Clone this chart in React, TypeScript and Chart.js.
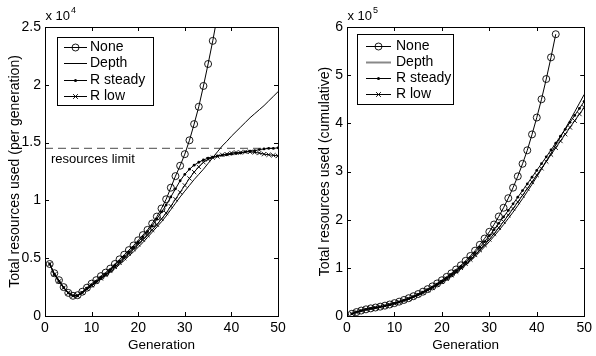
import React, { useEffect, useRef } from "react";
import { Chart, registerables } from "chart.js";

Chart.register(...registerables);

const FONT = "'Liberation Sans', Arial, Helvetica, sans-serif";

// ---------- data ----------
const generations = [
  1, 2, 3, 4, 5, 6, 7, 8, 9, 10, 11, 12, 13, 14, 15, 16, 17, 18, 19, 20, 21, 22, 23, 24, 25,
  26, 27, 28, 29, 30, 31, 32, 33, 34, 35, 36, 37, 38, 39, 40, 41, 42, 43, 44, 45, 46, 47, 48, 49, 50,
];
const seriesNames = ["None", "Depth", "R steady", "R low"];
const resourcesLimit = 14500;
const resourcesLimitLabel = "resources limit";

// per generation (left panel)
const perGenNone = [
  4500, 3700, 3100, 2500, 2000, 1750, 1800, 2100, 2450, 2800, 3100, 3450, 3750, 4100, 4500, 4900,
  5300, 5700, 6100, 6550, 7000, 7450, 8000, 8600, 9300, 10100, 11100, 12100, 13000, 14000, 15200,
  16600, 18100, 19900, 21800, 23800, 26000,
];
const perGenDepth = [
  4500, 3600, 3000, 2450, 2000, 1750, 1750, 2000, 2300, 2600, 2900, 3200, 3500, 3800, 4100, 4450,
  4800, 5200, 5550, 5950, 6350, 6800, 7250, 7700, 8150, 8650, 9200, 9750, 10300, 10800, 11300,
  11800, 12250, 12700, 13200, 13700, 14200, 14700, 15100, 15550, 15950, 16350, 16750, 17150, 17500,
  17850, 18200, 18600, 19000, 19400,
];
const perGenRSteady = [
  4500, 3600, 3000, 2450, 2000, 1750, 1750, 2050, 2400, 2700, 3000, 3350, 3650, 4000, 4400, 4750,
  5150, 5550, 5950, 6400, 6850, 7300, 7800, 8400, 9000, 9600, 10300, 11000, 11700, 12250, 12700,
  13050, 13300, 13500, 13650, 13750, 13850, 13900, 13950, 14000, 14050, 14100, 14200, 14250, 14300,
  14400, 14450, 14500, 14500, 14550,
];
const perGenRLow = [
  4500, 3600, 3000, 2450, 2000, 1750, 1750, 2000, 2350, 2650, 2950, 3250, 3550, 3900, 4250, 4600,
  5000, 5400, 5800, 6200, 6600, 7000, 7450, 7900, 8400, 8900, 9500, 10100, 10700, 11300, 11900,
  12450, 12900, 13300, 13550, 13700, 13800, 13950, 14000, 14100, 14150, 14150, 14200, 14200, 14150,
  14100, 14000, 13950, 13900, 13850,
];

// cumulative (right panel)
const cumNone = [
  4500, 8200, 11300, 13800, 15800, 17600, 19400, 21500, 23900, 26700, 29800, 33300, 37000, 41100,
  45600, 50500, 55800, 61500, 67600, 74200, 81200, 88600, 96600, 105200, 114500, 124600, 135700,
  147800, 160800, 174800, 190000, 206600, 224700, 244600, 266400, 290000, 316000, 344000, 377000,
  412000, 450000, 492000, 537000, 585000,
];
const cumDepth = [
  4500, 8100, 11100, 13600, 15600, 17300, 19100, 21100, 23400, 26000, 28900, 32100, 35600, 39400,
  43500, 47900, 52700, 57900, 63500, 69400, 75800, 82600, 89800, 97500, 105700, 114300, 123500,
  133300, 143600, 154400, 165700, 177500, 189700, 202400, 215600, 229300, 243500, 258200, 273300,
  288900, 304800, 321200, 337900, 355000, 372000, 389000, 406000, 424000, 442000, 460000,
];
const cumRSteady = [
  4500, 8100, 11100, 13600, 15600, 17300, 19100, 21100, 23500, 26200, 29200, 32600, 36200, 40200,
  44600, 49400, 54500, 60100, 66000, 72400, 79300, 86600, 94400, 102800, 111800, 121400, 131700,
  142700, 154400, 166600, 179300, 192400, 205700, 219200, 232800, 246600, 260400, 274300, 288300,
  302300, 316300, 330400, 344600, 358900, 373200, 387600, 402000, 416500, 431000, 445600,
];
const cumRLow = [
  4500, 8100, 11100, 13600, 15600, 17300, 19100, 21100, 23400, 26100, 29000, 32300, 35800, 39700,
  44000, 48600, 53600, 59000, 64800, 71000, 77600, 84600, 92000, 99900, 108300, 117200, 126700,
  136800, 147500, 158800, 170700, 183200, 196100, 209400, 222900, 236600, 250400, 264400, 278400,
  292500, 306600, 320800, 335000, 349200, 363300, 377400, 391400, 405400, 419300, 433100,
];

// axis settings
const xMin = 0;
const xMax = 50;
const xStep = 10;
const leftYMax = 25000;
const leftYStep = 5000;
const leftYScaleExp = 4;
const rightYMax = 600000;
const rightYStep = 100000;
const rightYScaleExp = 5;

// ---------- helpers ----------
type Kind = "circle" | "line" | "dot" | "cross";
const kinds: Kind[] = ["circle", "line", "dot", "cross"];

function pts(values: number[]) {
  return values.map((v, i) => ({ x: generations[i], y: v }));
}

function lineDs(label: string, values: number[], kind: Kind) {
  const base: any = {
    label,
    data: pts(values),
    borderColor: "#000",
    borderWidth: 1,
    pointBorderColor: "#000",
    tension: 0,
    fill: false,
  };
  if (kind === "circle")
    return { ...base, pointStyle: "circle", pointRadius: 3.5, pointBackgroundColor: "rgba(0,0,0,0)", pointBorderWidth: 0.9 };
  if (kind === "dot")
    return { ...base, pointStyle: "circle", pointRadius: 1.4, pointBackgroundColor: "#000", pointBorderWidth: 0 };
  if (kind === "cross")
    return { ...base, pointStyle: "crossRot", pointRadius: 3, pointBorderWidth: 0.9, pointBackgroundColor: "#000" };
  return { ...base, pointRadius: 0 };
}

function drawMarker(ctx: CanvasRenderingContext2D, kind: Kind, x: number, y: number) {
  ctx.beginPath();
  if (kind === "circle") {
    ctx.lineWidth = 0.9;
    ctx.arc(x, y, 3.5, 0, Math.PI * 2);
    ctx.stroke();
  } else if (kind === "dot") {
    ctx.arc(x, y, 1.5, 0, Math.PI * 2);
    ctx.fill();
  } else if (kind === "cross") {
    ctx.lineWidth = 0.9;
    const r = 2.4;
    ctx.moveTo(x - r, y - r);
    ctx.lineTo(x + r, y + r);
    ctx.moveTo(x - r, y + r);
    ctx.lineTo(x + r, y - r);
    ctx.stroke();
  }
}

const framePlugin = {
  id: "matlabFrame",
  afterDraw(chart: any, _args: any, opts: any) {
    const { ctx, chartArea: a, scales } = chart;
    const xs = scales.x;
    const ys = scales.y;
    ctx.save();
    ctx.strokeStyle = "#000";
    ctx.fillStyle = "#000";
    ctx.lineWidth = 1;

    // box
    ctx.strokeRect(Math.round(a.left) + 0.5, Math.round(a.top) + 0.5, Math.round(a.right - a.left), Math.round(a.bottom - a.top));

    // inward ticks
    const tl = 4;
    ctx.beginPath();
    xs.ticks.forEach((t: any) => {
      const px = Math.round(xs.getPixelForValue(t.value)) + 0.5;
      ctx.moveTo(px, a.bottom);
      ctx.lineTo(px, a.bottom - tl);
      ctx.moveTo(px, a.top);
      ctx.lineTo(px, a.top + tl);
    });
    ys.ticks.forEach((t: any) => {
      const py = Math.round(ys.getPixelForValue(t.value)) + 0.5;
      ctx.moveTo(a.left, py);
      ctx.lineTo(a.left + tl, py);
      ctx.moveTo(a.right, py);
      ctx.lineTo(a.right - tl, py);
    });
    ctx.stroke();

    // exponent label
    ctx.textBaseline = "alphabetic";
    ctx.textAlign = "left";
    ctx.font = `13px ${FONT}`;
    const ex = a.left + 0.5;
    ctx.fillText("x 10", ex, a.top - 7);
    const w = ctx.measureText("x 10").width;
    ctx.font = `9px ${FONT}`;
    ctx.fillText(String(opts.exp), ex + w + 1, a.top - 14);

    // limit label
    if (opts.limit != null) {
      ctx.font = `13px ${FONT}`;
      ctx.textBaseline = "middle";
      ctx.fillText(opts.limitLabel, a.left + 6, ys.getPixelForValue(opts.limit) + 11);
    }

    // legend
    const L = opts.legend;
    const bx = Math.round(a.left + L.dx);
    const by = Math.round(a.top + L.dy);
    ctx.fillStyle = "#fff";
    ctx.fillRect(bx, by, L.w, L.h);
    ctx.fillStyle = "#000";
    ctx.lineWidth = 1;
    ctx.strokeRect(bx + 0.5, by + 0.5, L.w, L.h);
    ctx.font = `14px ${FONT}`;
    ctx.textBaseline = "middle";
    seriesNames.forEach((name, i) => {
      const cy = Math.round(by + L.rows[i]) + 0.5;
      ctx.beginPath();
      if (kinds[i] === "line" && L.depthGray) {
        ctx.strokeStyle = "#888";
        ctx.lineWidth = 2;
      } else {
        ctx.strokeStyle = "#000";
        ctx.lineWidth = 1;
      }
      ctx.moveTo(bx + L.l0, cy);
      ctx.lineTo(bx + L.l1, cy);
      ctx.stroke();
      ctx.strokeStyle = "#000";
      ctx.fillStyle = "#000";
      drawMarker(ctx, kinds[i], bx + (L.l0 + L.l1) / 2, cy);
      ctx.fillText(name, bx + L.tx, cy);
    });
    ctx.restore();
  },
};

function makeConfig(opts: {
  datasets: any[];
  yMax: number;
  yStep: number;
  exp: number;
  yTitle: string;
  yWidth: number;
  padRight: number;
  titlePad: number;
  frame: any;
}) {
  const tickFont = { family: FONT, size: 14 };
  const div = Math.pow(10, opts.exp);
  return {
    type: "line",
    data: { datasets: opts.datasets },
    plugins: [framePlugin],
    options: {
      animation: false,
      responsive: false,
      devicePixelRatio: 1,
      events: [],
      layout: { padding: { top: 27, right: opts.padRight, left: 0, bottom: 0 } },
      plugins: {
        legend: { display: false },
        tooltip: { enabled: false },
        matlabFrame: { exp: opts.exp, ...opts.frame },
      },
      scales: {
        x: {
          type: "linear",
          min: xMin,
          max: xMax,
          grid: { display: false, drawTicks: false },
          border: { display: false },
          ticks: { stepSize: xStep, font: tickFont, color: "#000", padding: 4, maxRotation: 0, autoSkip: false },
          title: { display: true, text: "Generation", font: { family: FONT, size: 13.5 }, color: "#000", padding: { top: 0, bottom: 3 } },
          afterFit: (s: any) => {
            s.height = 40;
          },
        },
        y: {
          type: "linear",
          min: 0,
          max: opts.yMax,
          grid: { display: false, drawTicks: false },
          border: { display: false },
          ticks: {
            stepSize: opts.yStep,
            font: tickFont,
            color: "#000",
            padding: 4,
            callback: (v: number) => String(Math.round((v / div) * 100) / 100),
          },
          title: { display: true, text: opts.yTitle, font: { family: FONT, size: 14 }, color: "#000", padding: { top: opts.titlePad, bottom: 0 } },
          afterFit: (s: any) => {
            s.width = opts.yWidth;
          },
        },
      },
    },
  };
}

function ChartCanvas({ config, width, height, left }: { config: () => any; width: number; height: number; left: number }) {
  const ref = useRef<HTMLCanvasElement | null>(null);
  useEffect(() => {
    if (!ref.current) return;
    const chart = new Chart(ref.current, config());
    return () => chart.destroy();
  }, []);
  return (
    <canvas
      ref={ref}
      width={width}
      height={height}
      style={{ position: "absolute", left, top: 0, width, height, display: "block" }}
    />
  );
}

export default function App() {
  const leftConfig = () =>
    makeConfig({
      datasets: [
        lineDs(seriesNames[0], perGenNone, "circle"),
        lineDs(seriesNames[1], perGenDepth, "line"),
        lineDs(seriesNames[2], perGenRSteady, "dot"),
        lineDs(seriesNames[3], perGenRLow, "cross"),
        {
          label: resourcesLimitLabel,
          data: [
            { x: xMin, y: resourcesLimit },
            { x: xMax, y: resourcesLimit },
          ],
          borderColor: "#6e6e6e",
          borderWidth: 1.3,
          borderDash: [8, 5],
          pointRadius: 0,
          fill: false,
        },
      ],
      yMax: leftYMax,
      yStep: leftYStep,
      exp: leftYScaleExp,
      yTitle: "Total resources used (per generation)",
      yWidth: 45,
      padRight: 20,
      titlePad: 6.5,
      frame: {
        limit: resourcesLimit,
        limitLabel: resourcesLimitLabel,
        legend: { dx: 12, dy: 10, w: 96, h: 68, rows: [9.5, 25.5, 42.5, 58.5], l0: 7, l1: 30, tx: 33, depthGray: false },
      },
    });
  const rightConfig = () =>
    makeConfig({
      datasets: [
        lineDs(seriesNames[0], cumNone, "circle"),
        lineDs(seriesNames[1], cumDepth, "line"),
        lineDs(seriesNames[2], cumRSteady, "dot"),
        lineDs(seriesNames[3], cumRLow, "cross"),
      ],
      yMax: rightYMax,
      yStep: rightYStep,
      exp: rightYScaleExp,
      yTitle: "Total resources used (cumulative)",
      yWidth: 49,
      padRight: 8,
      titlePad: 18.5,
      frame: {
        limit: null,
        legend: { dx: 10, dy: 7, w: 96, h: 70, rows: [11.5, 27.5, 43.5, 60], l0: 9, l1: 34, tx: 39, depthGray: true },
      },
    });
  return (
    <div style={{ position: "fixed", left: 0, top: 0, width: 596, height: 356, background: "#fff", overflow: "hidden" }}>
      <ChartCanvas config={leftConfig} width={298} height={356} left={0} />
      <ChartCanvas config={rightConfig} width={298} height={356} left={298} />
    </div>
  );
}
